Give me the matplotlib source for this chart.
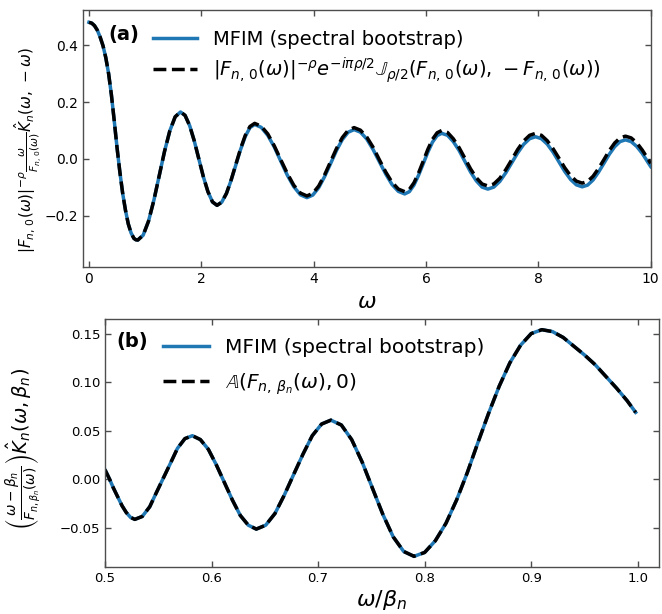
import matplotlib
matplotlib.use("Agg")
import matplotlib.pyplot as plt

# panel (a): kernel along the anti-diagonal
w_a = [0.00, 0.05, 0.10, 0.15, 0.20, 0.25, 0.30, 0.35, 0.40, 0.45, 0.50, 0.55, 0.60, 0.65,
       0.70, 0.75, 0.80, 0.835,
       0.87, 0.965, 1.06, 1.155, 1.25, 1.345, 1.44, 1.535,
       1.63, 1.711, 1.793, 1.874, 1.955, 2.036, 2.118, 2.199,
       2.28, 2.364, 2.448, 2.531, 2.615, 2.699, 2.783, 2.866,
       2.95, 3.066, 3.183, 3.299, 3.415, 3.531, 3.648, 3.764,
       3.88, 3.985, 4.09, 4.195, 4.30, 4.405, 4.51, 4.615,
       4.72, 4.833, 4.945, 5.058, 5.17, 5.283, 5.395, 5.508,
       5.62, 5.703, 5.785, 5.868, 5.95, 6.033, 6.115, 6.198,
       6.28, 6.383, 6.485, 6.588, 6.69, 6.793, 6.895, 6.998,
       7.10, 7.206, 7.313, 7.419, 7.525, 7.631, 7.738, 7.844,
       7.95, 8.054, 8.158, 8.261, 8.365, 8.469, 8.573, 8.676,
       8.78, 8.876, 8.973, 9.069, 9.165, 9.261, 9.358, 9.454,
       9.55, 9.65, 9.75, 9.85, 9.95, 10.0]
mfim_a = [0.480, 0.477, 0.468, 0.452, 0.428, 0.398, 0.356, 0.300, 0.225, 0.135, 0.040, -0.045,
          -0.120, -0.180, -0.228, -0.260, -0.279, -0.284,
          -0.285, -0.268, -0.219, -0.146, -0.060, 0.026, 0.099, 0.148,
          0.165, 0.153, 0.117, 0.064, 0.001, -0.062, -0.115, -0.151,
          -0.163, -0.152, -0.121, -0.075, -0.021, 0.033, 0.079, 0.110,
          0.121, 0.111, 0.083, 0.042, -0.008, -0.057, -0.098, -0.126,
          -0.136, -0.127, -0.101, -0.062, -0.017, 0.029, 0.068, 0.094,
          0.103, 0.094, 0.070, 0.033, -0.010, -0.053, -0.090, -0.114,
          -0.123, -0.115, -0.092, -0.057, -0.017, 0.024, 0.059, 0.082,
          0.090, 0.083, 0.061, 0.030, -0.008, -0.046, -0.077, -0.099,
          -0.106, -0.099, -0.079, -0.049, -0.014, 0.021, 0.051, 0.071,
          0.078, 0.071, 0.052, 0.024, -0.010, -0.044, -0.072, -0.091,
          -0.098, -0.092, -0.074, -0.047, -0.016, 0.016, 0.043, 0.061,
          0.067, 0.061, 0.044, 0.019, -0.012, -0.027]
exact_a = [0.480, 0.477, 0.468, 0.452, 0.428, 0.398, 0.356, 0.300, 0.225, 0.135, 0.040, -0.045,
           -0.120, -0.180, -0.228, -0.260, -0.279, -0.284,
           -0.285, -0.268, -0.219, -0.146, -0.060, 0.026, 0.099, 0.148,
           0.165, 0.153, 0.117, 0.064, 0.001, -0.062, -0.115, -0.151,
           -0.163, -0.152, -0.121, -0.074, -0.019, 0.036, 0.083, 0.114,
           0.125, 0.115, 0.088, 0.046, -0.003, -0.051, -0.093, -0.120,
           -0.130, -0.121, -0.095, -0.056, -0.010, 0.036, 0.075, 0.101,
           0.110, 0.101, 0.077, 0.041, -0.003, -0.046, -0.082, -0.106,
           -0.115, -0.107, -0.084, -0.049, -0.008, 0.034, 0.069, 0.092,
           0.100, 0.093, 0.071, 0.040, 0.003, -0.035, -0.066, -0.088,
           -0.095, -0.088, -0.068, -0.038, -0.003, 0.033, 0.063, 0.083,
           0.090, 0.083, 0.064, 0.036, 0.003, -0.031, -0.059, -0.078,
           -0.085, -0.079, -0.061, -0.034, -0.003, 0.029, 0.056, 0.074,
           0.080, 0.074, 0.057, 0.031, 0.000, -0.016]

# panel (b): kernel at fixed beta_n
w_b = [0.500, 0.504, 0.508, 0.512, 0.516, 0.520, 0.524,
       0.528, 0.535, 0.542, 0.548, 0.555, 0.562, 0.568, 0.575,
       0.582, 0.5895, 0.597, 0.6045, 0.612, 0.6195, 0.627, 0.6345,
       0.642, 0.6508, 0.6595, 0.6683, 0.677, 0.6858, 0.6945, 0.7033,
       0.712, 0.7218, 0.7315, 0.7413, 0.751, 0.7608, 0.7705, 0.7803,
       0.790, 0.800, 0.810, 0.820, 0.830, 0.840, 0.850, 0.860, 0.870, 0.880, 0.890, 0.900,
       0.910, 0.920, 0.930, 0.940, 0.950, 0.960, 0.970, 0.980, 0.990, 0.998]
mfim_b = [0.010, 0.001, -0.009, -0.018, -0.027, -0.034, -0.039,
          -0.041, -0.038, -0.028, -0.014, 0.002, 0.018, 0.032, 0.042,
          0.045, 0.041, 0.031, 0.015, -0.003, -0.021, -0.037, -0.047,
          -0.051, -0.047, -0.035, -0.016, 0.005, 0.026, 0.045, 0.057,
          0.061, 0.056, 0.041, 0.018, -0.009, -0.036, -0.059, -0.074,
          -0.079, -0.075, -0.063, -0.045, -0.021, 0.007, 0.038, 0.068, 0.096, 0.120, 0.138, 0.150,
          0.154, 0.152, 0.146, 0.137, 0.128, 0.118, 0.106, 0.094, 0.081, 0.069]
exact_b = [0.010, 0.001, -0.009, -0.018, -0.027, -0.034, -0.039,
           -0.041, -0.038, -0.028, -0.014, 0.002, 0.018, 0.032, 0.042,
           0.045, 0.041, 0.031, 0.015, -0.003, -0.021, -0.037, -0.047,
           -0.051, -0.047, -0.035, -0.016, 0.005, 0.026, 0.045, 0.057,
           0.061, 0.056, 0.041, 0.018, -0.009, -0.036, -0.059, -0.074,
           -0.079, -0.075, -0.063, -0.045, -0.021, 0.007, 0.038, 0.068, 0.096, 0.120, 0.138, 0.150,
           0.154, 0.152, 0.146, 0.137, 0.128, 0.118, 0.106, 0.094, 0.081, 0.069]

blue = "#1f77b4"

plt.rcParams["mathtext.fontset"] = "dejavusans"


def style_axes(ax, fs):
    ax.tick_params(direction="in", top=True, right=True, labelsize=fs,
                   length=4, width=1.0, color="0.3")
    for s in ax.spines.values():
        s.set_color("0.3")
        s.set_linewidth(1.0)


fig = plt.figure(figsize=(6.62, 6.14), dpi=100)

ax1 = fig.add_axes([0.125, 0.565, 0.858, 0.4186])
ax1.plot(w_a, mfim_a, color=blue, lw=2.5, label="MFIM (spectral bootstrap)")
ax1.plot(w_a, exact_a, color="k", lw=2.5, ls="--",
         label=r"$|F_{n,\,0}(\omega)|^{-\rho}e^{-i\pi\rho/2}\mathbb{J}_{\rho/2}(F_{n,\,0}(\omega),\,-F_{n,\,0}(\omega))$")
ax1.set_xlim(-0.11, 10)
ax1.set_ylim(-0.38, 0.523)
ax1.set_yticks([-0.2, 0.0, 0.2, 0.4])
style_axes(ax1, 10)
ax1.set_xlabel(r"$\omega$", fontsize=16)
ax1.set_ylabel(r"$|F_{n,\,0}(\omega)|^{-\rho}\frac{\omega}{F_{n,\,0}(\omega)}\hat{K}_n(\omega,\,-\omega)$",
               fontsize=11)
ax1.yaxis.set_label_coords(-0.068, 0.455)
ax1.text(0.045, 0.905, "(a)", transform=ax1.transAxes, fontsize=14, fontweight="bold",
         va="center")
ax1.legend(loc="upper left", bbox_to_anchor=(0.099, 0.975), frameon=False, fontsize=14,
           handlelength=2.3, borderpad=0.2, labelspacing=0.3)

ax2 = fig.add_axes([0.1586, 0.0765, 0.837, 0.404])
ax2.plot(w_b, mfim_b, color=blue, lw=2.5, label="MFIM (spectral bootstrap)")
ax2.plot(w_b, exact_b, color="k", lw=2.5, ls="--",
         label=r"$\mathbb{A}(F_{n,\,\beta_n}(\omega),0)$")
ax2.set_xlim(0.5, 1.02)
ax2.set_ylim(-0.09, 0.165)
ax2.set_yticks([-0.05, 0.0, 0.05, 0.10, 0.15])
style_axes(ax2, 9.5)
ax2.set_xlabel(r"$\omega/\beta_n$", fontsize=16, labelpad=2)
ax2.set_ylabel(r"$\left(\frac{\omega-\beta_n}{F_{n,\beta_n}(\omega)}\right)\hat{K}_n(\omega,\beta_n)$",
               fontsize=14)
ax2.yaxis.set_label_coords(-0.112, 0.475)
ax2.text(0.02, 0.91, "(b)", transform=ax2.transAxes, fontsize=14, fontweight="bold",
         va="center")
ax2.legend(loc="upper left", bbox_to_anchor=(0.079, 0.98), frameon=False, fontsize=14.5,
           handlelength=2.3, borderpad=0.2, labelspacing=0.7)

fig.savefig("out.png", dpi=100)
